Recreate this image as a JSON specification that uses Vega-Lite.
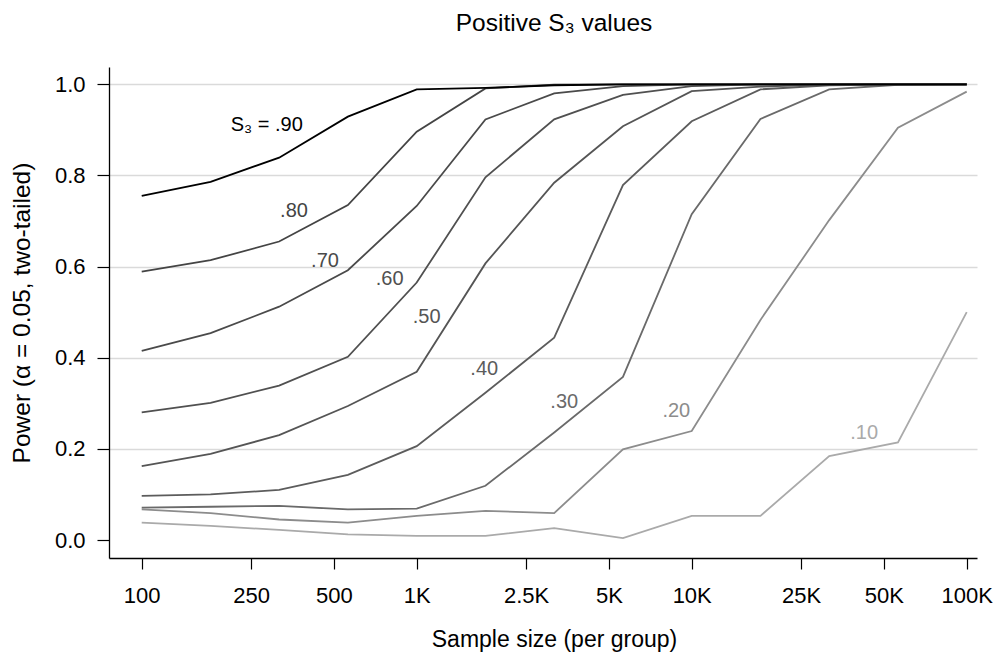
{
  "$schema": "https://vega.github.io/schema/vega-lite/v6.json",
  "width": 868,
  "height": 491,
  "autosize": {"type": "none"},
  "padding": {"left": 109, "top": 67, "right": 23, "bottom": 98},
  "background": "white",
  "config": {"font": "Liberation Sans", "view": {"stroke": null}},
  "title": {"text": "Positive S₃ values", "fontSize": 24.5, "fontWeight": "normal", "color": "#000000", "anchor": "middle", "frame": "group", "baseline": "alphabetic", "offset": 12, "dx": 11},
  "datasets": {
    "curves": [
      {"n": 100, "s3": ".10", "power": 0.038}, {"n": 178, "s3": ".10", "power": 0.031}, {"n": 316, "s3": ".10", "power": 0.022}, {"n": 562, "s3": ".10", "power": 0.0125}, {"n": 1000, "s3": ".10", "power": 0.009}, {"n": 1778, "s3": ".10", "power": 0.009}, {"n": 3162, "s3": ".10", "power": 0.026}, {"n": 5623, "s3": ".10", "power": 0.004}, {"n": 10000, "s3": ".10", "power": 0.053}, {"n": 17783, "s3": ".10", "power": 0.053}, {"n": 31623, "s3": ".10", "power": 0.184}, {"n": 56234, "s3": ".10", "power": 0.214}, {"n": 100000, "s3": ".10", "power": 0.5},
      {"n": 100, "s3": ".20", "power": 0.067}, {"n": 178, "s3": ".20", "power": 0.059}, {"n": 316, "s3": ".20", "power": 0.045}, {"n": 562, "s3": ".20", "power": 0.038}, {"n": 1000, "s3": ".20", "power": 0.053}, {"n": 1778, "s3": ".20", "power": 0.064}, {"n": 3162, "s3": ".20", "power": 0.059}, {"n": 5623, "s3": ".20", "power": 0.199}, {"n": 10000, "s3": ".20", "power": 0.239}, {"n": 17783, "s3": ".20", "power": 0.483}, {"n": 31623, "s3": ".20", "power": 0.702}, {"n": 56234, "s3": ".20", "power": 0.905}, {"n": 100000, "s3": ".20", "power": 0.984},
      {"n": 100, "s3": ".30", "power": 0.071}, {"n": 178, "s3": ".30", "power": 0.073}, {"n": 316, "s3": ".30", "power": 0.075}, {"n": 562, "s3": ".30", "power": 0.067}, {"n": 1000, "s3": ".30", "power": 0.069}, {"n": 1778, "s3": ".30", "power": 0.119}, {"n": 3162, "s3": ".30", "power": 0.236}, {"n": 5623, "s3": ".30", "power": 0.358}, {"n": 10000, "s3": ".30", "power": 0.715}, {"n": 17783, "s3": ".30", "power": 0.924}, {"n": 31623, "s3": ".30", "power": 0.989}, {"n": 56234, "s3": ".30", "power": 0.999}, {"n": 100000, "s3": ".30", "power": 1.0},
      {"n": 100, "s3": ".40", "power": 0.097}, {"n": 178, "s3": ".40", "power": 0.1}, {"n": 316, "s3": ".40", "power": 0.11}, {"n": 562, "s3": ".40", "power": 0.143}, {"n": 1000, "s3": ".40", "power": 0.206}, {"n": 1778, "s3": ".40", "power": 0.323}, {"n": 3162, "s3": ".40", "power": 0.444}, {"n": 5623, "s3": ".40", "power": 0.779}, {"n": 10000, "s3": ".40", "power": 0.919}, {"n": 17783, "s3": ".40", "power": 0.989}, {"n": 31623, "s3": ".40", "power": 0.998}, {"n": 56234, "s3": ".40", "power": 1.0}, {"n": 100000, "s3": ".40", "power": 1.0},
      {"n": 100, "s3": ".50", "power": 0.162}, {"n": 178, "s3": ".50", "power": 0.189}, {"n": 316, "s3": ".50", "power": 0.23}, {"n": 562, "s3": ".50", "power": 0.294}, {"n": 1000, "s3": ".50", "power": 0.369}, {"n": 1778, "s3": ".50", "power": 0.607}, {"n": 3162, "s3": ".50", "power": 0.784}, {"n": 5623, "s3": ".50", "power": 0.908}, {"n": 10000, "s3": ".50", "power": 0.985}, {"n": 17783, "s3": ".50", "power": 0.995}, {"n": 31623, "s3": ".50", "power": 1.0}, {"n": 56234, "s3": ".50", "power": 1.0}, {"n": 100000, "s3": ".50", "power": 1.0},
      {"n": 100, "s3": ".60", "power": 0.28}, {"n": 178, "s3": ".60", "power": 0.301}, {"n": 316, "s3": ".60", "power": 0.339}, {"n": 562, "s3": ".60", "power": 0.402}, {"n": 1000, "s3": ".60", "power": 0.565}, {"n": 1778, "s3": ".60", "power": 0.796}, {"n": 3162, "s3": ".60", "power": 0.923}, {"n": 5623, "s3": ".60", "power": 0.977}, {"n": 10000, "s3": ".60", "power": 0.996}, {"n": 17783, "s3": ".60", "power": 1.0}, {"n": 31623, "s3": ".60", "power": 1.0}, {"n": 56234, "s3": ".60", "power": 1.0}, {"n": 100000, "s3": ".60", "power": 1.0},
      {"n": 100, "s3": ".70", "power": 0.415}, {"n": 178, "s3": ".70", "power": 0.454}, {"n": 316, "s3": ".70", "power": 0.512}, {"n": 562, "s3": ".70", "power": 0.592}, {"n": 1000, "s3": ".70", "power": 0.733}, {"n": 1778, "s3": ".70", "power": 0.923}, {"n": 3162, "s3": ".70", "power": 0.98}, {"n": 5623, "s3": ".70", "power": 0.996}, {"n": 10000, "s3": ".70", "power": 1.0}, {"n": 17783, "s3": ".70", "power": 1.0}, {"n": 31623, "s3": ".70", "power": 1.0}, {"n": 56234, "s3": ".70", "power": 1.0}, {"n": 100000, "s3": ".70", "power": 1.0},
      {"n": 100, "s3": ".80", "power": 0.589}, {"n": 178, "s3": ".80", "power": 0.614}, {"n": 316, "s3": ".80", "power": 0.655}, {"n": 562, "s3": ".80", "power": 0.735}, {"n": 1000, "s3": ".80", "power": 0.896}, {"n": 1778, "s3": ".80", "power": 0.991}, {"n": 3162, "s3": ".80", "power": 0.999}, {"n": 5623, "s3": ".80", "power": 1.0}, {"n": 10000, "s3": ".80", "power": 1.0}, {"n": 17783, "s3": ".80", "power": 1.0}, {"n": 31623, "s3": ".80", "power": 1.0}, {"n": 56234, "s3": ".80", "power": 1.0}, {"n": 100000, "s3": ".80", "power": 1.0},
      {"n": 100, "s3": ".90", "power": 0.755}, {"n": 178, "s3": ".90", "power": 0.786}, {"n": 316, "s3": ".90", "power": 0.839}, {"n": 562, "s3": ".90", "power": 0.929}, {"n": 1000, "s3": ".90", "power": 0.989}, {"n": 1778, "s3": ".90", "power": 0.992}, {"n": 3162, "s3": ".90", "power": 0.998}, {"n": 5623, "s3": ".90", "power": 1.0}, {"n": 10000, "s3": ".90", "power": 1.0}, {"n": 17783, "s3": ".90", "power": 1.0}, {"n": 31623, "s3": ".90", "power": 1.0}, {"n": 56234, "s3": ".90", "power": 1.0}, {"n": 100000, "s3": ".90", "power": 1.0}
    ],
    "labels": [
      {"n": 285, "power": 0.911, "label": "S₃ = .90", "s3": ".90"},
      {"n": 358, "power": 0.722, "label": ".80", "s3": ".80"},
      {"n": 464, "power": 0.612, "label": ".70", "s3": ".70"},
      {"n": 797, "power": 0.573, "label": ".60", "s3": ".60"},
      {"n": 1087, "power": 0.49, "label": ".50", "s3": ".50"},
      {"n": 1760, "power": 0.375, "label": ".40", "s3": ".40"},
      {"n": 3439, "power": 0.302, "label": ".30", "s3": ".30"},
      {"n": 8790, "power": 0.2835, "label": ".20", "s3": ".20"},
      {"n": 42370, "power": 0.234, "label": ".10", "s3": ".10"}
    ]
  },
  "encoding": {
    "x": {
      "field": "n", "type": "quantitative",
      "scale": {"type": "log", "domain": [76.04, 109000], "nice": false},
      "axis": {
        "title": "Sample size (per group)",
        "values": [100, 250, 500, 1000, 2500, 5000, 10000, 25000, 50000, 100000],
        "labelExpr": "datum.value >= 1000 ? format(datum.value / 1000, '~g') + 'K' : format(datum.value, 'd')",
        "grid": false,
        "domainColor": "#000000", "domainWidth": 1.3,
        "tickColor": "#000000", "tickWidth": 1.2, "tickSize": 11,
        "labelFontSize": 22, "labelColor": "#000000", "labelBaseline": "alphabetic", "labelPadding": 33,
        "labelFlush": false, "labelOverlap": false,
        "titleFontSize": 23, "titleFontWeight": "normal", "titleColor": "#000000",
        "titleX": 445, "titleY": 88, "titleBaseline": "alphabetic", "titleAlign": "center"
      }
    },
    "y": {
      "field": "power", "type": "quantitative",
      "scale": {"domain": [-0.0395, 1.038], "nice": false, "zero": false},
      "axis": {
        "title": "Power (α = 0.05, two-tailed)",
        "values": [0, 0.2, 0.4, 0.6, 0.8, 1.0],
        "format": ".1f",
        "grid": true, "gridColor": "#dadada", "gridWidth": 1.3,
        "gridOpacity": {"condition": {"test": "datum.value == 0", "value": 0}, "value": 1},
        "domainColor": "#000000", "domainWidth": 1.3,
        "tickColor": "#000000", "tickWidth": 1.2, "tickSize": 12,
        "labelFontSize": 22, "labelColor": "#000000", "labelPadding": 12,
        "labelFlush": false, "labelOverlap": false,
        "titleFontSize": 24.5, "titleFontWeight": "normal", "titleColor": "#000000",
        "titleX": -80, "titleY": 245.5, "titleAngle": -90, "titleAlign": "center", "titleBaseline": "alphabetic"
      }
    },
    "color": {
      "field": "s3", "type": "nominal",
      "scale": {
        "domain": [".10", ".20", ".30", ".40", ".50", ".60", ".70", ".80", ".90"],
        "range": ["#aaaaaa", "#8c8c8c", "#6a6a6a", "#5c5c5c", "#555555", "#505050", "#4a4a4a", "#444444", "#000000"]
      },
      "legend": null
    }
  },
  "layer": [
    {
      "data": {"name": "curves"},
      "mark": {"type": "line", "strokeWidth": 1.8}
    },
    {
      "data": {"name": "labels"},
      "mark": {"type": "text", "fontSize": 20, "align": "center", "baseline": "middle"},
      "encoding": {"text": {"field": "label", "type": "nominal"}}
    }
  ]
}
